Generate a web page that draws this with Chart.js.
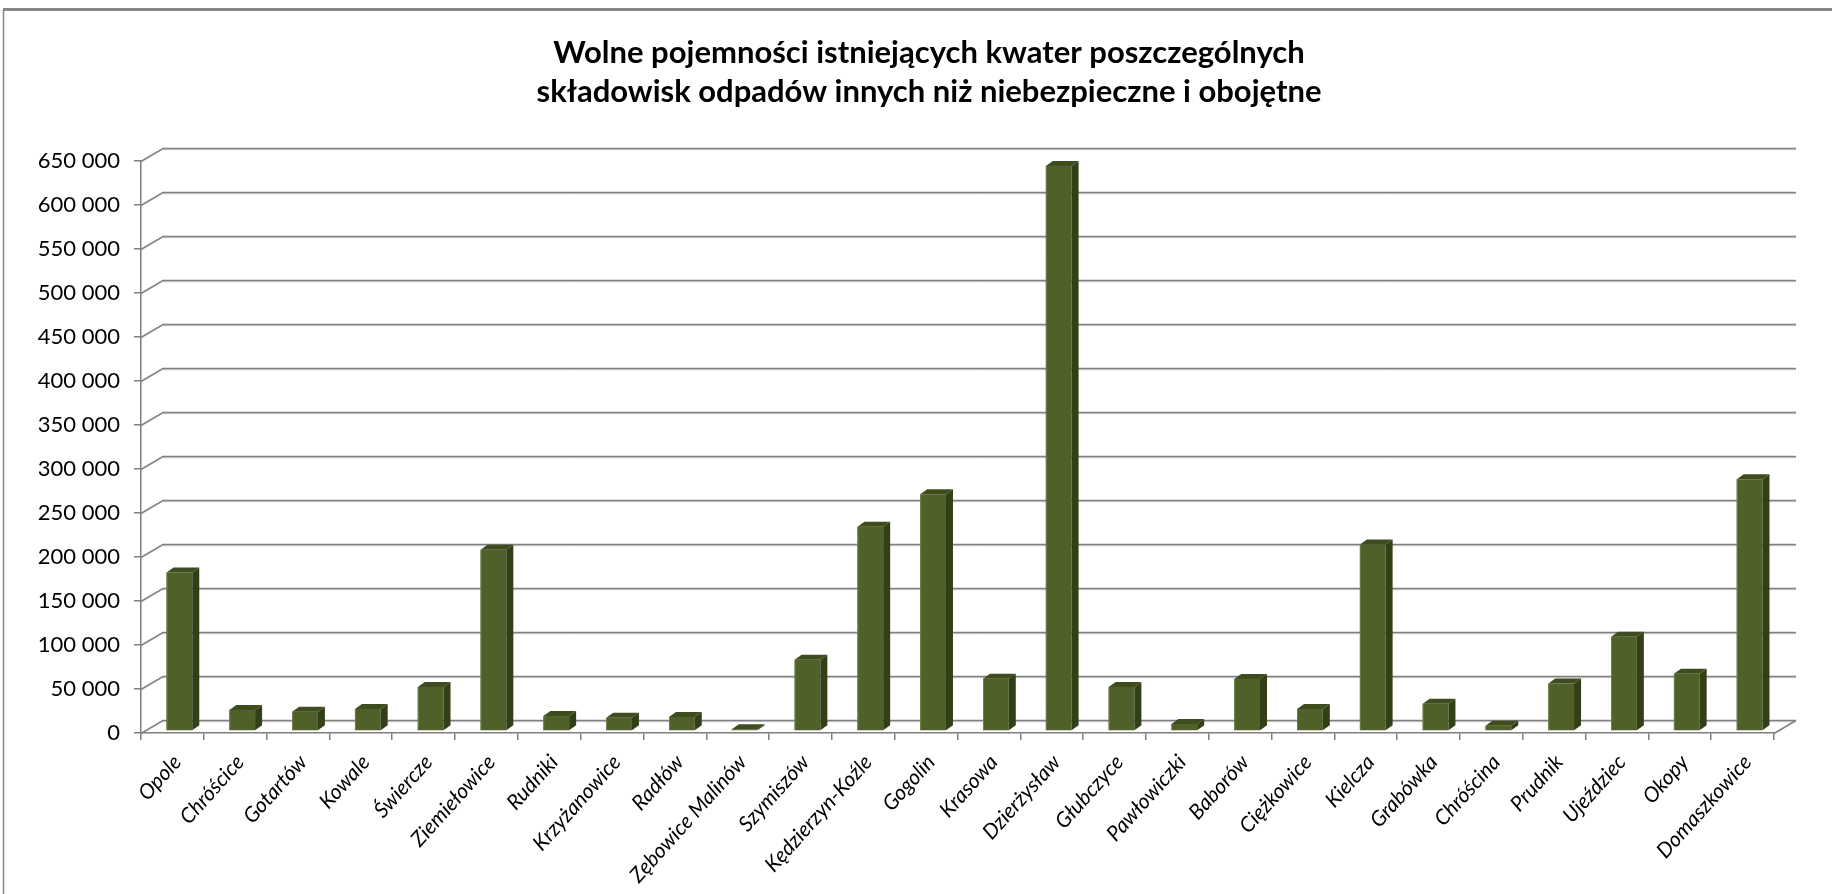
<!DOCTYPE html>
<html>
<head>
<meta charset="utf-8">
<script src="https://cdn.jsdelivr.net/npm/chart.js@4.4.1/dist/chart.umd.min.js"></script>
<style>
  html, body { margin: 0; padding: 0; background: #fff; }
  #wrap { width: 1832px; height: 894px; }
</style>
</head>
<body>
<div id="wrap"><canvas id="wykres" width="1832" height="894"></canvas></div>
<script>
// Dane
const kategorie = ['Opole', 'Chróścice', 'Gotartów', 'Kowale', 'Świercze', 'Ziemiełowice', 'Rudniki',
  'Krzyżanowice', 'Radłów', 'Zębowice Malinów', 'Szymiszów', 'Kędzierzyn-Koźle', 'Gogolin', 'Krasowa',
  'Dzierżysław', 'Głubczyce', 'Pawłowiczki', 'Baborów', 'Ciężkowice', 'Kielcza', 'Grabówka', 'Chróścina',
  'Prudnik', 'Ujeździec', 'Okopy', 'Domaszkowice'];
const pojemnosci = [180000, 24000, 22000, 25000, 50000, 206000, 17000,
  15000, 16000, 2000, 81000, 232000, 269000, 59500,
  642000, 50000, 8000, 59000, 25000, 212000, 31000, 6000,
  54000, 107000, 65000, 286000];
const podzialkiY = [0, 50000, 100000, 150000, 200000, 250000, 300000, 350000, 400000, 450000, 500000, 550000, 600000, 650000];
const tytul = ['Wolne pojemności istniejących kwater poszczególnych', 'składowisk odpadów innych niż niebezpieczne i obojętne'];

// przesuniecie sciany tylnej (efekt 3D)
const glebX = 22, glebY = 13;

function formatuj(v) {
  return String(v).replace(/\B(?=(\d{3})+(?!\d))/g, ' ');
}

// ramka wokol wykresu
const ramka = {
  id: 'ramka',
  beforeDraw(chart) {
    const ctx = chart.ctx;
    ctx.save();
    ctx.strokeStyle = '#868686';
    ctx.lineWidth = 3;
    ctx.beginPath();
    ctx.moveTo(3, 9.5);
    ctx.lineTo(1832, 9.5);
    ctx.stroke();
    ctx.lineWidth = 1.5;
    ctx.beginPath();
    ctx.moveTo(3.5, 9);
    ctx.lineTo(3.5, 894);
    ctx.stroke();
    ctx.restore();
  }
};

// sciana tylna, podloga i kolumny 3D
const kolumny3d = {
  id: 'kolumny3d',
  beforeDatasetsDraw(chart) {
    const ctx = chart.ctx, a = chart.chartArea, y = chart.scales.y;
    ctx.save();
    podzialkiY.forEach(function (v) {
      const py = Math.round(y.getPixelForValue(v)) + 0.5;
      ctx.strokeStyle = '#c9c9c9';
      ctx.lineWidth = 1;
      ctx.beginPath();
      ctx.moveTo(a.left + glebX, py - glebY + 1.2);
      ctx.lineTo(a.right + glebX, py - glebY + 1.2);
      ctx.stroke();
      ctx.strokeStyle = '#7f7f7f';
      ctx.lineWidth = 1.5;
      ctx.beginPath();
      ctx.moveTo(a.left, py);
      ctx.lineTo(a.left + glebX, py - glebY);
      ctx.lineTo(a.right + glebX, py - glebY);
      ctx.stroke();
    });
    // prawa krawedz podlogi
    const p0 = Math.round(y.getPixelForValue(0)) + 0.5;
    ctx.beginPath();
    ctx.moveTo(a.right, p0);
    ctx.lineTo(a.right + glebX, p0 - glebY);
    ctx.stroke();
    ctx.restore();

    // kolumny stoja w srodku glebokosci
    ctx.save();
    ctx.translate(7, -2);
  },
  afterDatasetsDraw(chart) {
    const ctx = chart.ctx;
    const dx = 7, dy = 5;
    chart.getDatasetMeta(0).data.forEach(function (bar) {
      const p = bar.getProps(['x', 'y', 'base', 'width'], true);
      const l = p.x - p.width / 2, r = p.x + p.width / 2;
      // bok
      ctx.fillStyle = '#323F17';
      ctx.beginPath();
      ctx.moveTo(r, p.y);
      ctx.lineTo(r + dx, p.y - dy);
      ctx.lineTo(r + dx, p.base - dy);
      ctx.lineTo(r, p.base);
      ctx.closePath();
      ctx.fill();
      // gora
      ctx.fillStyle = '#3E4C1E';
      ctx.beginPath();
      ctx.moveTo(l, p.y);
      ctx.lineTo(l + dx, p.y - dy);
      ctx.lineTo(r + dx, p.y - dy);
      ctx.lineTo(r, p.y);
      ctx.closePath();
      ctx.fill();
      // jasniejsza krawedz przodu
      ctx.strokeStyle = '#6E8048';
      ctx.lineWidth = 1;
      ctx.beginPath();
      ctx.moveTo(l + 0.5, p.base);
      ctx.lineTo(l + 0.5, p.y);
      ctx.stroke();
    });
    ctx.restore();
  }
};

new Chart(document.getElementById('wykres').getContext('2d'), {
  type: 'bar',
  data: {
    labels: kategorie,
    datasets: [{
      data: pojemnosci,
      backgroundColor: '#4F6128',
      borderWidth: 0,
      barPercentage: 0.41,
      categoryPercentage: 1,
      clip: false,
    }],
  },
  options: {
    responsive: false,
    animation: false,
    layout: { padding: { top: 14, right: 0, left: 26, bottom: 0 } },
    plugins: {
      legend: { display: false },
      tooltip: { enabled: false },
      title: {
        display: true,
        text: tytul,
        color: '#000',
        font: { family: 'Lato', size: 31, weight: 'bold', lineHeight: 1.24 },
        padding: { top: 20, bottom: 50 },
      },
    },
    scales: {
      x: {
        offset: true,
        grid: { display: true, drawOnChartArea: false, offset: true, tickLength: 7, color: '#7f7f7f', lineWidth: 1.5 },
        border: { display: true, color: '#7f7f7f', width: 1.5 },
        ticks: {
          autoSkip: false,
          minRotation: 48,
          maxRotation: 48,
          padding: 10,
          labelOffset: 5,
          color: '#000',
          font: { family: 'Lato', size: 21, style: 'italic' },
        },
        afterFit(s) { s.height = 161; },
      },
      y: {
        min: 0,
        max: 650000,
        afterBuildTicks(s) { s.ticks = podzialkiY.map(v => ({ value: v })); },
        grid: { display: true, drawOnChartArea: false, tickLength: 7, color: '#7f7f7f', lineWidth: 1.5 },
        border: { display: true, color: '#7f7f7f', width: 1.5 },
        ticks: {
          padding: 14,
          color: '#000',
          font: { family: 'Lato', size: 22 },
          callback: v => formatuj(v),
        },
        afterFit(s) { s.width = 115; },
      },
      // pusty margines po prawej stronie
      yPrawa: {
        position: 'right',
        display: true,
        grid: { display: false },
        border: { display: false },
        ticks: { display: false },
        afterFit(s) { s.width = 58; },
      },
    },
  },
  plugins: [ramka, kolumny3d],
});
</script>
</body>
</html>
